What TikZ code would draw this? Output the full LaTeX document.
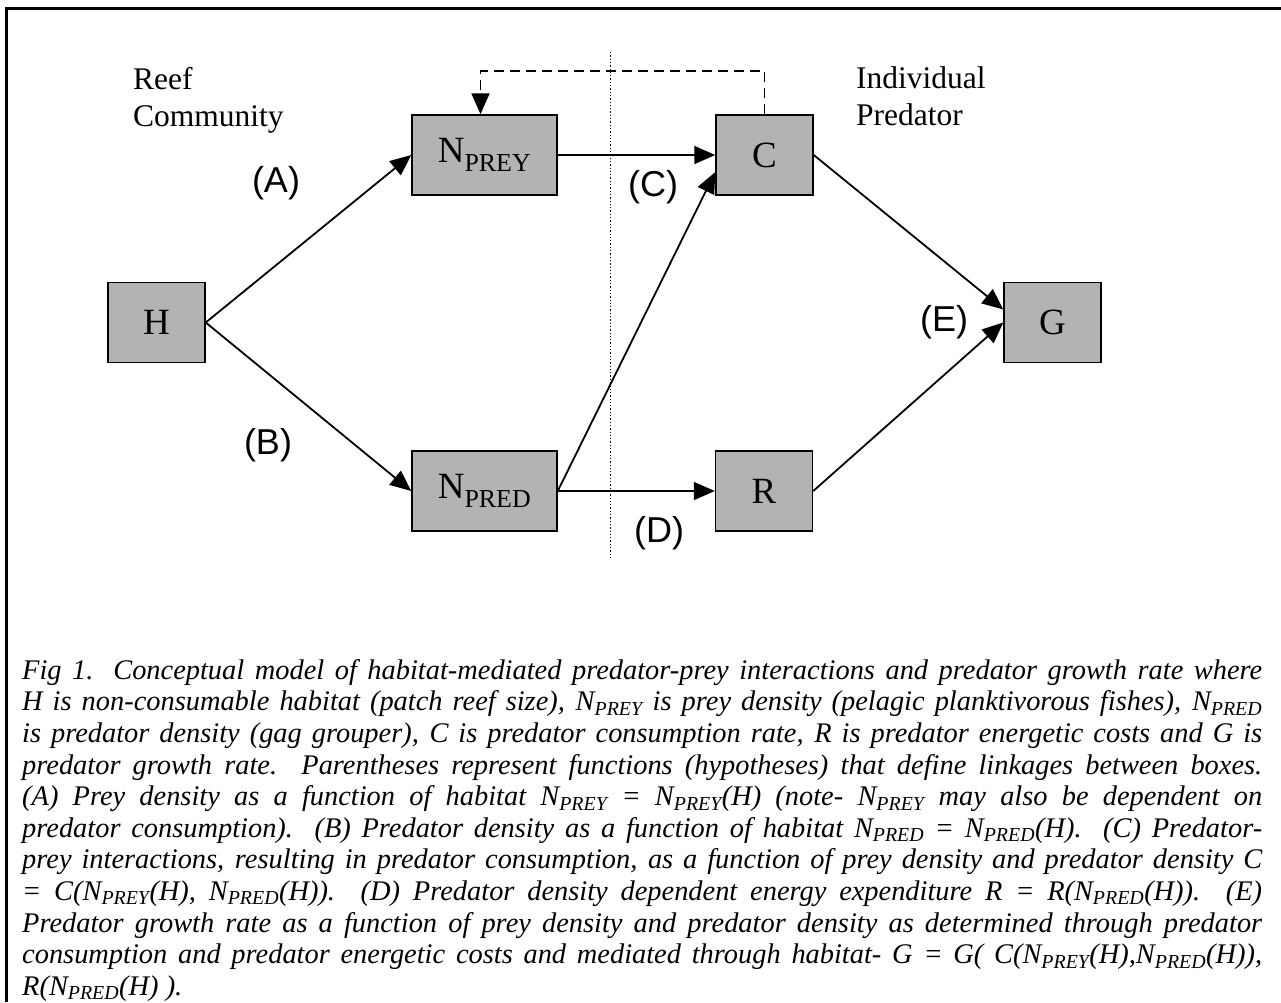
\documentclass[tikz,border=0pt]{standalone}
\usepackage{fontspec}
\setmainfont{Liberation Serif}
\setsansfont{Liberation Sans}
\usetikzlibrary{arrows.meta,calc}
\definecolor{boxgray}{RGB}{179,179,179}
\tikzset{
  gbox/.style={draw,fill=boxgray,line width=1.5pt,inner sep=0pt,minimum height=80pt,minimum width=97pt,font=\fontsize{37}{42}\selectfont},
  wbox/.style={gbox,minimum width=145pt},
  fn/.style={font=\sffamily\fontsize{36}{40}\selectfont,inner sep=0pt},
  side/.style={font=\fontsize{31.5}{37}\selectfont,align=left,anchor=north west,inner sep=0pt},
  figcap/.style={font=\itshape\fontsize{28.4}{31.6}\selectfont,text width=1240pt,align=justify,anchor=north west,inner sep=0pt},
  arr/.style={-{Triangle[length=21pt,width=18pt]},line width=1.8pt},
  farr/.style={arr,dash pattern=on 10pt off 6pt},
}

\begin{document}
\begin{tikzpicture}[x=1pt,y=-1pt]
\useasboundingbox (0,0) rectangle (1281,1002);
% frame
\draw[line width=3pt] (6.5,1002) |- (1281,8);
% divider
\coordinate (sepT) at (610,52);
\coordinate (sepB) at (610,560);
\draw[line width=1pt,dash pattern=on 1.3pt off 2pt] (sepT) -- (sepB);
\node[side] (reef) at (133,67) {Reef\\Community};
\node[side] (indiv) at (856,66) {Individual\\Predator};
% boxes
\node[gbox] (H) at (156.5,322.5) {H};
\node[wbox] (Nprey) at (484.5,155) {N\textsubscript{PREY}};
\node[gbox] (C) at (764.5,155) {C};
\node[wbox] (Npred) at (484.5,491) {N\textsubscript{PRED}};
\node[gbox] (R) at (764,491) {R};
\node[gbox] (G) at (1052.5,322.5) {G};
% links
\draw[arr] (H.east) -- (Nprey.west);
\draw[arr] (H.east) -- (Npred.west);
\draw[arr] (Nprey.east) -- (C.west);
\draw[arr] (Npred.east) -- ($(C.south west)!0.29!(C.north west)$);
\draw[arr] (Npred.east) -- (R.west);
\draw[arr] (C.east) -- ($(G.north west)!0.34!(G.south west)$);
\draw[arr] (R.east) -- (G.west);
\draw[farr] (C.north) -- ++(0,-43) -| ($(Nprey.north)+(-4,0)$);
\node[fn] (lA) at (276,183) {(A)};
\node[fn] (lB) at (268,445) {(B)};
\node[fn] (lC) at (653,187) {(C)};
\node[fn] (lD) at (659,533) {(D)};
\node[fn] (lE) at (944,322) {(E)};
% caption
\node[figcap] (fig) at (22,659) {\hyphenpenalty=10000
Fig 1. Conceptual model of habitat-mediated predator-prey interactions and predator growth rate where\linebreak
H is non-consumable habitat (patch reef size), N\textsubscript{PREY} is prey density (pelagic planktivorous fishes), N\textsubscript{PRED}\linebreak
is predator density (gag grouper), C is predator consumption rate, R is predator energetic costs and G is\linebreak
predator growth rate.\ \ Parentheses represent functions (hypotheses) that define linkages between boxes.\linebreak
(A) Prey density as a function of habitat N\textsubscript{PREY} = N\textsubscript{PREY}(H) (note- N\textsubscript{PREY} may also be dependent on\linebreak
predator consumption).\ \ (B) Predator density as a function of habitat N\textsubscript{PRED} = N\textsubscript{PRED}(H).\ \ (C) Predator-\linebreak
prey interactions, resulting in predator consumption, as a function of prey density and predator density C\linebreak
= C(N\textsubscript{PREY}(H), N\textsubscript{PRED}(H)).\ \ (D) Predator density dependent energy expenditure R = R(N\textsubscript{PRED}(H)).\ \ (E)\linebreak
Predator growth rate as a function of prey density and predator density as determined through predator\linebreak
consumption and predator energetic costs and mediated through habitat- G = G( C(N\textsubscript{PREY}(H),N\textsubscript{PRED}(H)),\linebreak
R(N\textsubscript{PRED}(H) ).};
\end{tikzpicture}
\end{document}
